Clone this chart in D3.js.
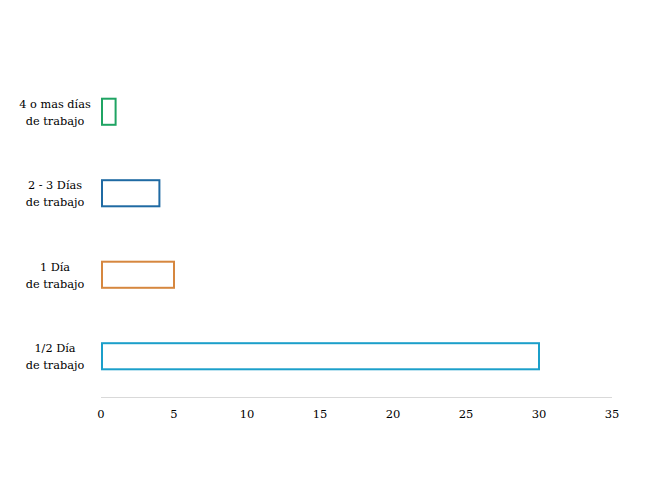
<!DOCTYPE html>
<html><head><meta charset="utf-8">
<script src="https://cdn.jsdelivr.net/npm/d3@7"></script>
<style>body{margin:0;background:#fff}svg{display:block}svg text{font-family:"DejaVu Serif",serif}</style>
</head><body>
<script>
const categories = [["4 o mas días","de trabajo"],["2 - 3 Días","de trabajo"],["1 Día","de trabajo"],["1/2 Día","de trabajo"]];
const values = [1, 4, 5, 30];
const colors = ["#1fa463", "#1f6aa3", "#d6873f", "#1b9fca"];
const ticks = [0,5,10,15,20,25,30,35];

const W=650,H=487;
const svg=d3.select("body").append("svg").attr("width",W).attr("height",H);
const x=d3.scaleLinear().domain([0,35]).range([101,612]);
const y=d3.scaleBand().domain(d3.range(categories.length)).range([71,397]).paddingInner(0.68).paddingOuter(0.34);

svg.append("line").attr("x1",x(0)).attr("x2",x(35)).attr("y1",397.5).attr("y2",397.5)
  .attr("stroke","#d9d9d9").attr("stroke-width",1);

svg.selectAll("text.tick").data(ticks).enter().append("text")
  .attr("x",d=>x(d)).attr("y",418).attr("text-anchor","middle")
  .attr("font-size",11.5).attr("fill","#000").text(d=>d);

svg.selectAll("rect.bar").data(values).enter().append("rect")
  .attr("x",x(0)+1).attr("y",(d,i)=>y(i))
  .attr("width",d=>x(d)-x(0)-1).attr("height",y.bandwidth())
  .attr("fill","#fff").attr("stroke",(d,i)=>colors[i]).attr("stroke-width",2);

const lab=svg.selectAll("text.lab").data(categories).enter().append("text")
  .attr("font-size",11.3).attr("fill","#000").attr("text-anchor","middle");
lab.each(function(d,i){
  const c=y(i)+y.bandwidth()/2;
  d3.select(this).selectAll("tspan").data(d).enter().append("tspan")
    .attr("x",55).attr("y",(t,j)=>c-4+j*17).text(t=>t);
});
</script>
</body></html>
